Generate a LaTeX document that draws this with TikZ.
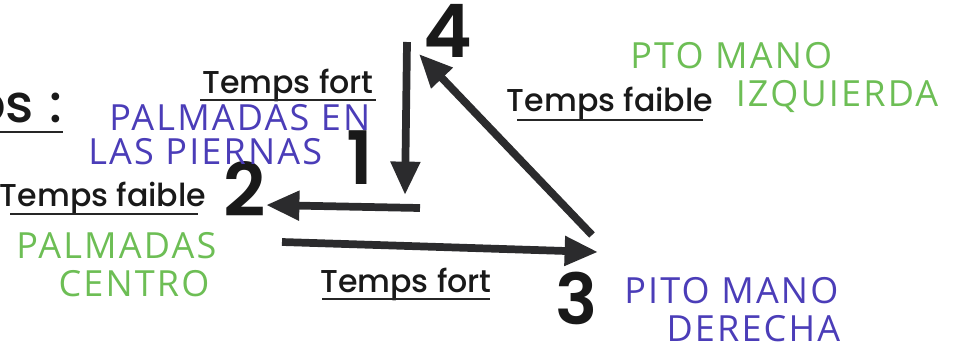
\documentclass[tikz,border=0pt]{standalone}
\usepackage{fontspec}
\setmainfont{Poppins}
\newfontfamily\beatfont{Poppins Medium}
\newfontfamily\numfont{Poppins SemiBold}
\newfontfamily\handfont{Open Sans}[LetterSpace=6]
\usetikzlibrary{arrows.meta}
\definecolor{inkblue}{HTML}{4B3DB8}
\definecolor{inkgreen}{HTML}{6DBE55}
\definecolor{arrowgray}{HTML}{2B2B2D}

\begin{document}
\begin{tikzpicture}[
    x=0.02cm, y=-0.02cm,
    every node/.style={inner sep=0pt},
    beat/.style={font=\beatfont\fontsize{18}{18}\selectfont, text=black!90, anchor=base},
    num/.style={font=\numfont\fontsize{42}{42}\selectfont, text=black!90, anchor=base},
    hand/.style={font=\handfont\fontsize{20.5}{21.5}\selectfont, text=#1, align=left, anchor=north west},
    uline/.style={line width=1.2pt, black!85},
    arr/.style={-{Triangle[length=19pt, width=16pt]}, line width=4.4pt, arrowgray},
]
    \useasboundingbox (0,0) rectangle (966,349);

    % Heading (cut at the left edge)
    \node[font=\beatfont\fontsize{30}{30}\selectfont, text=black!90, anchor=base east] (head) at (63,122) {os\kern9pt:};
    \draw[uline] (0,132) -- (63,132);

    % Beat numbers
    \node[num] (n1) at (360,184) {1};
    \node[num] (n2) at (245,216) {2};
    \node[num, font=\numfont\fontsize{40}{40}\selectfont] (n3) at (577,324) {3};
    \node[num] (n4) at (448,57) {4};

    % Corners of the triangle
    \coordinate (top) at (407,42);
    \coordinate (c1) at (405,195);
    \coordinate (s1) at (420,208);
    \coordinate (c2) at (266,205);
    \coordinate (s2) at (282,242);
    \coordinate (c3) at (598,252);
    \coordinate (s3) at (592,235);
    \coordinate (c4) at (419,54);

    % Arrows
    \draw[arr] (top) -- (c1);
    \draw[arr] (s1) -- (c2);
    \draw[arr] (s2) -- (c3);
    \draw[arr] (s3) -- (c4);

    % Strong / weak beats
    \node[beat] (tfort1) at (288,93) {Temps fort};
    \draw[uline] (200,100) -- (376,100);
    \node[beat] (tfaible1) at (103,206) {Temps faible};
    \draw[uline] (10,214) -- (198,214);
    \node[beat] (tfaible2) at (610,111) {Temps faible};
    \draw[uline] (517,120) -- (703,120);
    \node[beat] (tfort2) at (406,292) {Temps fort};
    \draw[uline] (322,299) -- (490,299);

    % Handwritten notes
    \node[hand=inkblue, font=\handfont\fontsize{20.5}{19.5}\selectfont] (legs) at (88,104) {\hspace*{12pt}PALMADAS EN\\LAS PIERNAS};
    \node[hand=inkgreen] (middle) at (16,232) {PALMADAS\\\hspace*{24pt}CENTRO};
    \node[hand=inkgreen] (lefthand) at (630,42) {PTO MANO\\\hspace*{60pt}IZQUIERDA};
    \node[hand=inkblue] (righthand) at (624,277) {PITO MANO\\\hspace*{24pt}DERECHA};
\end{tikzpicture}
\end{document}
